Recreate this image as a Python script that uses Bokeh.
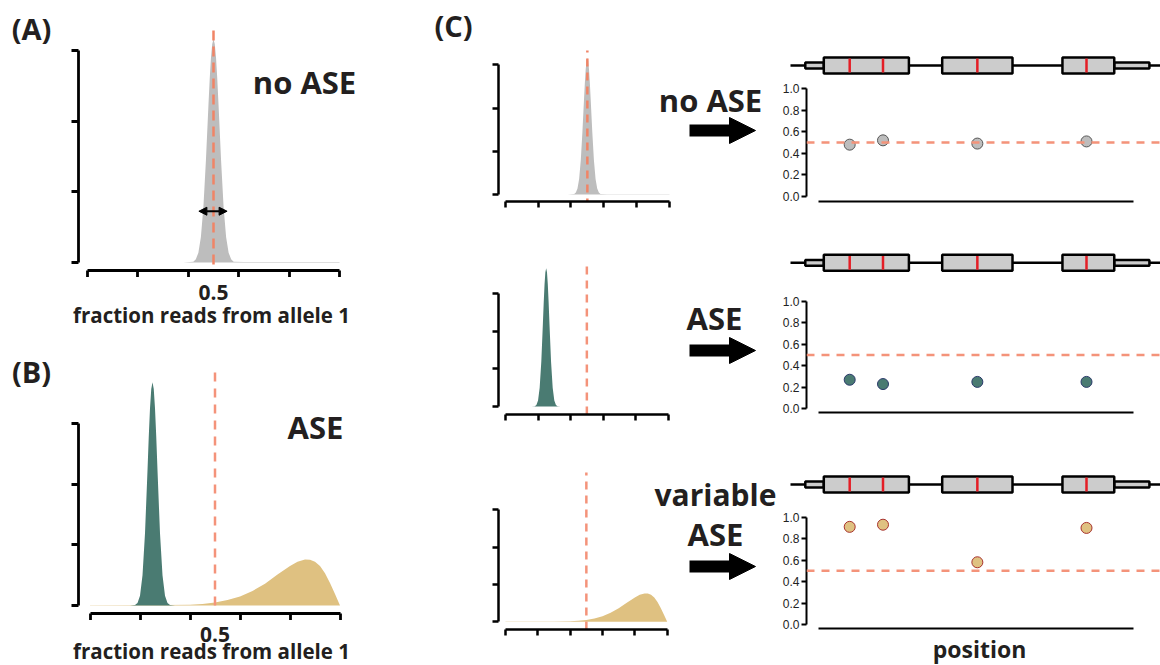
from bokeh.plotting import figure
from bokeh.models import LinearAxis, FixedTicker, Range1d, Label, Arrow, NormalHead, Span
from bokeh.layouts import row, column
from bokeh.embed import file_html
from bokeh.resources import INLINE

# ---------------- data ----------------
# density of "fraction reads from allele 1" (arbitrary density units; 1 unit = one y tick)
frac_noase = [0.38, 0.42, 0.43, 0.44, 0.45, 0.46, 0.47, 0.48, 0.485, 0.49, 0.495, 0.50,
              0.505, 0.51, 0.515, 0.52, 0.53, 0.54, 0.55, 0.56, 0.57, 0.58, 0.62, 1.0]
dens_noase = [0.0, 0.01, 0.045, 0.14, 0.36, 0.79, 1.45, 2.23, 2.60, 2.90, 3.09, 3.16,
              3.09, 2.90, 2.60, 2.23, 1.45, 0.79, 0.36, 0.14, 0.045, 0.012, 0.008, 0.008]

frac_ase = [0.0, 0.16, 0.18, 0.19, 0.20, 0.21, 0.22, 0.23, 0.235, 0.24, 0.245, 0.25,
            0.255, 0.26, 0.265, 0.27, 0.28, 0.29, 0.30, 0.31, 0.32, 0.34]
dens_ase = [0.0, 0.0, 0.008, 0.04, 0.16, 0.50, 1.19, 2.23, 2.78, 3.25, 3.57, 3.68,
            3.57, 3.25, 2.78, 2.23, 1.19, 0.50, 0.16, 0.04, 0.008, 0.0]

frac_var = [0.0, 0.30, 0.40, 0.45, 0.50, 0.55, 0.60, 0.65, 0.70, 0.75, 0.80, 0.83,
            0.86, 0.88, 0.90, 0.92, 0.94, 0.96, 0.98, 1.0]
dens_var = [0.006, 0.008, 0.012, 0.025, 0.05, 0.09, 0.15, 0.24, 0.36, 0.51, 0.65, 0.72,
            0.76, 0.755, 0.72, 0.65, 0.53, 0.37, 0.19, 0.0]

density_ticks_x = [0, 0.2, 0.4, 0.6, 0.8, 1.0]
density_ticks_y = [0, 1, 2, 3]
null_fraction = 0.5
null_label = "0.5"
x_axis_title = "fraction reads from allele 1"

# gene model (position units) and SNP allelic ratios
gene_span = [0, 100]
exon_start = [9, 41, 73.5]
exon_end = [32, 60, 87.5]
utr_start = [4, 87.5]
utr_end = [9, 97]
snp_pos = [16, 25, 50.5, 80]
noase_ratio = [0.48, 0.52, 0.49, 0.51]
ase_ratio = [0.27, 0.23, 0.25, 0.25]
var_ratio = [0.91, 0.93, 0.58, 0.90]
ratio_ticks = [0, 0.2, 0.4, 0.6, 0.8, 1.0]
ratio_labels = ["0.0", "0.2", "0.4", "0.6", "0.8", "1.0"]
position_axis_bounds = (7.6, 92.7)

# ---------------- styles ----------------
GRAY = "#BDBDBD"
GREEN = "#4A7B72"
TAN = "#DFC181"
DASH = "#F08466"
DASH2 = "#F4937A"
TXT = "#231F20"
FONT = "Open Sans"


def make_fig(box, frame, xmap, ymap):
    gx0, gy0, gx1, gy1 = box
    fl, ft, fr, fb = frame
    x0, sx = xmap
    y0, sy = ymap
    p = figure(width=gx1 - gx0, height=gy1 - gy0, output_backend="svg",
               toolbar_location=None, x_axis_type=None, y_axis_type=None,
               x_range=Range1d((fl - x0) / sx, (fr - x0) / sx),
               y_range=Range1d((y0 - fb) / sy, (y0 - ft) / sy),
               min_border_left=fl - gx0, min_border_right=gx1 - fr,
               min_border_top=ft - gy0, min_border_bottom=gy1 - fb)
    p.outline_line_color = None
    p.background_fill_color = "white"
    p.border_fill_color = "white"
    X = lambda px: (px - x0) / sx
    Y = lambda py: (y0 - py) / sy
    return p, X, Y


def strip_fig(box):
    # a text-only strip whose coordinates are the page pixels
    p, _, _ = make_fig(box, box, (0, 1), (0, -1))
    return p


def add_text(p, x, y, text, size, bold=True, font=FONT):
    p.add_layout(Label(x=x, y=y, text=text, text_font=font,
                       text_font_size=f"{size}px",
                       text_font_style="bold" if bold else "normal",
                       text_color=TXT, text_align="center", text_baseline="middle"))


def density_axes(p, tick, lw):
    yax = LinearAxis(ticker=FixedTicker(ticks=[], minor_ticks=density_ticks_y), bounds=(0, 3),
                     major_tick_out=0, major_tick_in=0, major_label_standoff=0,
                     minor_tick_out=tick, minor_tick_in=0, axis_line_width=lw,
                     minor_tick_line_width=lw, axis_line_color="black",
                     minor_tick_line_color="black")
    xax = LinearAxis(ticker=FixedTicker(ticks=[], minor_ticks=density_ticks_x),
                     bounds=(0, 1), major_tick_out=0, major_tick_in=0, major_label_standoff=0,
                     minor_tick_out=tick, minor_tick_in=0, axis_line_width=lw,
                     minor_tick_line_width=lw, axis_line_color="black",
                     minor_tick_line_color="black")
    p.add_layout(yax, "left")
    p.add_layout(xax, "below")


def dash_line(p, ylo, yhi, color, dash):
    p.segment(x0=[null_fraction], y0=[ylo], x1=[null_fraction], y1=[yhi],
              line_color=color, line_width=2.5, line_dash=dash)


def big_arrow(p, X, Y, y):
    p.add_layout(Arrow(x_start=X(689), y_start=Y(y), x_end=X(755), y_end=Y(y),
                       line_width=12, line_color="black",
                       end=NormalHead(size=26, fill_color="black", line_color="black",
                                      line_width=1)))


# ---------------- panel letters ----------------
stripAB = strip_fig((0, 0, 60, 665))
add_text(stripAB, 31, 28, "(A)", 29)
add_text(stripAB, 31, 371, "(B)", 29)

stripC = strip_fig((430, 0, 488, 665))
add_text(stripC, 453, 25, "(C)", 29)

# ---------------- panel A ----------------
A_X0, A_SX = 87, 252
pA, XA, YA = make_fig((60, 0, 430, 277), (78, 15, 425, 271), (A_X0, A_SX), (263, 71))
density_axes(pA, 7, 2.8)
pA.varea(x=frac_noase, y1=0, y2=dens_noase, fill_color=GRAY)
dash_line(pA, YA(281), YA(28), DASH, "10 6")
pA.add_layout(Arrow(x_start=0.442, y_start=YA(211.5), x_end=0.554, y_end=YA(211.5),
                    line_width=2, line_color="black",
                    start=NormalHead(size=8, fill_color="black", line_color="black", line_width=1),
                    end=NormalHead(size=8, fill_color="black", line_color="black", line_width=1)))
add_text(pA, XA(304), YA(82), "no ASE", 31)
stripA = strip_fig((60, 277, 430, 330))
add_text(stripA, A_X0 + A_SX * null_fraction, 292, null_label, 21)
add_text(stripA, 211, 314, x_axis_title, 20.5)

# ---------------- panel B ----------------
B_X0, B_SX = 89.5, 250
pB, XB, YB = make_fig((60, 330, 430, 620), (78, 345, 425, 614), (B_X0, B_SX), (606, 60.9))
density_axes(pB, 7, 2.8)
pB.varea(x=frac_var, y1=0, y2=dens_var, fill_color=TAN)
pB.varea(x=frac_ase, y1=0, y2=dens_ase, fill_color=GREEN)
dash_line(pB, YB(606), YB(371), DASH2, "9 7")
add_text(pB, XB(315), YB(427), "ASE", 31)
stripB = strip_fig((60, 620, 430, 665))
add_text(stripB, B_X0 + B_SX * null_fraction, 634, null_label, 21)
add_text(stripB, 211, 650.5, x_axis_title, 20.5)

# ---------------- panel C, left densities ----------------
c1, X1, Y1 = make_fig((488, 0, 778, 230), (498, 10, 778, 201), (504.7, 164.3), (194, 43.2))
density_axes(c1, 6, 2.5)
c1.varea(x=frac_noase, y1=0, y2=dens_noase, fill_color=GRAY)
dash_line(c1, Y1(206), Y1(50), DASH, "8 6")
add_text(c1, X1(710), Y1(99), "no ASE", 31)
big_arrow(c1, X1, Y1, 130)

c2, X2, Y2 = make_fig((488, 230, 778, 440), (498, 240, 778, 414), (505, 162.7), (406, 37.6))
density_axes(c2, 6, 2.5)
c2.varea(x=frac_ase, y1=0, y2=dens_ase, fill_color=GREEN)
dash_line(c2, Y2(414), Y2(263), DASH2, "8 6")
add_text(c2, X2(714), Y2(317), "ASE", 31)
big_arrow(c2, X2, Y2, 350)

c3, X3, Y3 = make_fig((488, 440, 778, 665), (498, 450, 778, 629), (505, 161.7), (621.3, 37.4))
density_axes(c3, 6, 2.5)
c3.varea(x=frac_var, y1=0, y2=dens_var, fill_color=TAN)
dash_line(c3, Y3(629), Y3(472), DASH2, "8 6")
add_text(c3, X3(715), Y3(494), "variable", 30)
add_text(c3, X3(715), Y3(533), "ASE", 31)
big_arrow(c3, X3, Y3, 566)


# ---------------- panel C, gene models and SNP ratios ----------------
def gene_fig(gy0, gy1, center):
    p, X, Y = make_fig((778, gy0, 1160, gy1), (778, gy0, 1160, gy1), (790, 3.7), (center, 8))
    p.segment(x0=[gene_span[0]], y0=[0], x1=[gene_span[1]], y1=[0],
              line_color="black", line_width=2.5)
    p.quad(left=utr_start, right=utr_end, bottom=-0.36, top=0.36,
           fill_color="#CCCCCC", line_color="black", line_width=2.5)
    p.quad(left=exon_start, right=exon_end, bottom=-1, top=1,
           fill_color="#CCCCCC", line_color="black", line_width=2.5)
    p.segment(x0=snp_pos, y0=-0.86, x1=snp_pos, y1=0.86,
              line_color="#E41E26", line_width=2.5)
    return p


def ratio_fig(gy0, gy1, frame_top, frame_bot, y0px, ppu, vals, fill, edge):
    p, X, Y = make_fig((778, gy0, 1160, gy1), (806, frame_top, 1160, frame_bot),
                       (790, 3.7), (y0px, ppu))
    yax = LinearAxis(ticker=FixedTicker(ticks=ratio_ticks), bounds=(0, 1),
                     major_label_overrides={t: l for t, l in zip(ratio_ticks, ratio_labels)},
                     major_label_text_font="Liberation Sans", major_label_text_font_size="12px",
                     major_label_text_color="#222222", major_label_standoff=2,
                     major_tick_out=5, major_tick_in=0, minor_tick_out=0, minor_tick_in=0,
                     axis_line_width=2, major_tick_line_width=2)
    xax = LinearAxis(ticker=FixedTicker(ticks=[]), bounds=position_axis_bounds,
                     major_tick_out=0, major_tick_in=0,
                     minor_tick_out=0, minor_tick_in=0, axis_line_width=2)
    p.add_layout(yax, "left")
    p.add_layout(xax, "below")
    p.add_layout(Span(location=null_fraction, dimension="width", line_color=DASH2,
                      line_width=2.5, line_dash="8 7"))
    p.scatter(x=snp_pos, y=vals, size=11, fill_color=fill, line_color=edge, line_width=1)
    return p


g1 = gene_fig(0, 80, 65)
s1 = ratio_fig(80, 230, 82, 201, 196, 108, noase_ratio, GRAY, "#555555")
g2 = gene_fig(230, 280, 262.3)
s2 = ratio_fig(280, 440, 292, 412, 408.3, 107.6, ase_ratio, GREEN, "#2B3A6B")
g3 = gene_fig(440, 500, 484)
s3 = ratio_fig(500, 634, 508, 628, 624, 107.3, var_ratio, TAN, "#A8322D")
posstrip = strip_fig((778, 634, 1160, 665))
add_text(posstrip, 979, 648, "position", 23)

col1 = row(stripAB, column(row(pA), row(stripA), row(pB), row(stripB)))
col2 = row(stripC, column(row(c1), row(c2), row(c3)))
col3 = column(row(g1), row(s1), row(g2), row(s2), row(g3), row(s3), row(posstrip))
layout = row(col1, col2, col3)

open("out.html", "w").write(file_html(layout, INLINE))
